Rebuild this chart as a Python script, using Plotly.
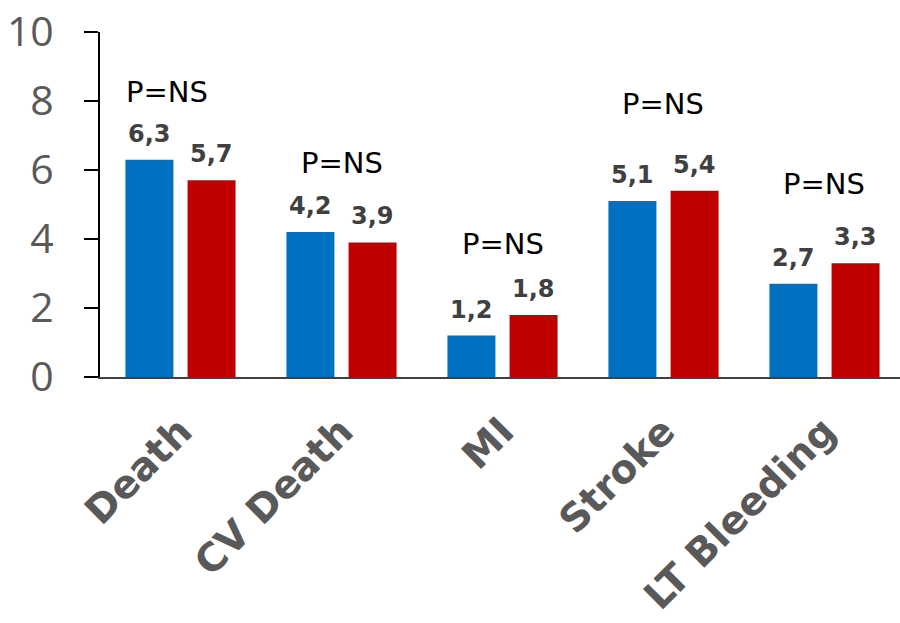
import plotly.graph_objects as go

categories = ["Death", "CV Death", "MI", "Stroke", "LT Bleeding"]
blue_values = [6.3, 4.2, 1.2, 5.1, 2.7]
red_values = [5.7, 3.9, 1.8, 5.4, 3.3]
pvalue_text = ["P=NS", "P=NS", "P=NS", "P=NS", "P=NS"]
pvalue_y = [8.25, 6.2, 3.85, 7.9, 5.6]
pvalue_dx = [-14, 0, 0, 0, 0]

BLUE = "#0070C0"
RED = "#C00000"
FONT = "'DejaVu Sans', sans-serif"

x_idx = list(range(len(categories)))
bar_w = 0.298
fig = go.Figure()
fig.add_bar(x=x_idx, y=blue_values, marker_color=BLUE, width=bar_w, offset=-0.342,
            marker_line_width=0, showlegend=False)
fig.add_bar(x=x_idx, y=red_values, marker_color=RED, width=bar_w, offset=0.044,
            marker_line_width=0, showlegend=False)

# value labels above each bar
for i in x_idx:
    for v, off in ((blue_values[i], -0.193), (red_values[i], 0.193)):
        fig.add_annotation(x=i + off, y=v, text="<b>" + f"{v:.1f}".replace(".", ",") + "</b>",
                           showarrow=False, yanchor="bottom", yshift=10,
                           font=dict(family=FONT, size=24, color="#404040"))
    fig.add_annotation(x=i, y=pvalue_y[i], text=pvalue_text[i], showarrow=False,
                       xshift=pvalue_dx[i], yanchor="middle",
                       font=dict(family=FONT, size=29, color="#000000"))

fig.update_layout(
    width=900, height=623,
    margin=dict(l=100, r=0, t=32, b=246),
    plot_bgcolor="white", paper_bgcolor="white",
    barmode="group",
)
fig.update_xaxes(
    range=[-0.5, 4.469], tickmode="array", tickvals=x_idx,
    ticktext=["<b>" + c + "</b>" for c in categories],
    tickangle=-45, showline=True, linecolor="#404040", linewidth=1.5,
    ticks="", showgrid=False, zeroline=False, ticklabelstandoff=14, automargin=False,
    tickfont=dict(family=FONT, size=39, color="#595959"),
)
fig.update_yaxes(
    range=[0, 10], tickvals=[0, 2, 4, 6, 8, 10], showline=True, linecolor="#000000",
    linewidth=2, ticks="outside", ticklen=14, tickwidth=1.5, tickcolor="#000000",
    showgrid=False, zeroline=False, ticklabelstandoff=22, ticklabeloverflow="allow",
    automargin=False,
    tickfont=dict(family="'Open Sans', sans-serif", size=41, color="#595959"),
)

fig.write_html("out.html")
